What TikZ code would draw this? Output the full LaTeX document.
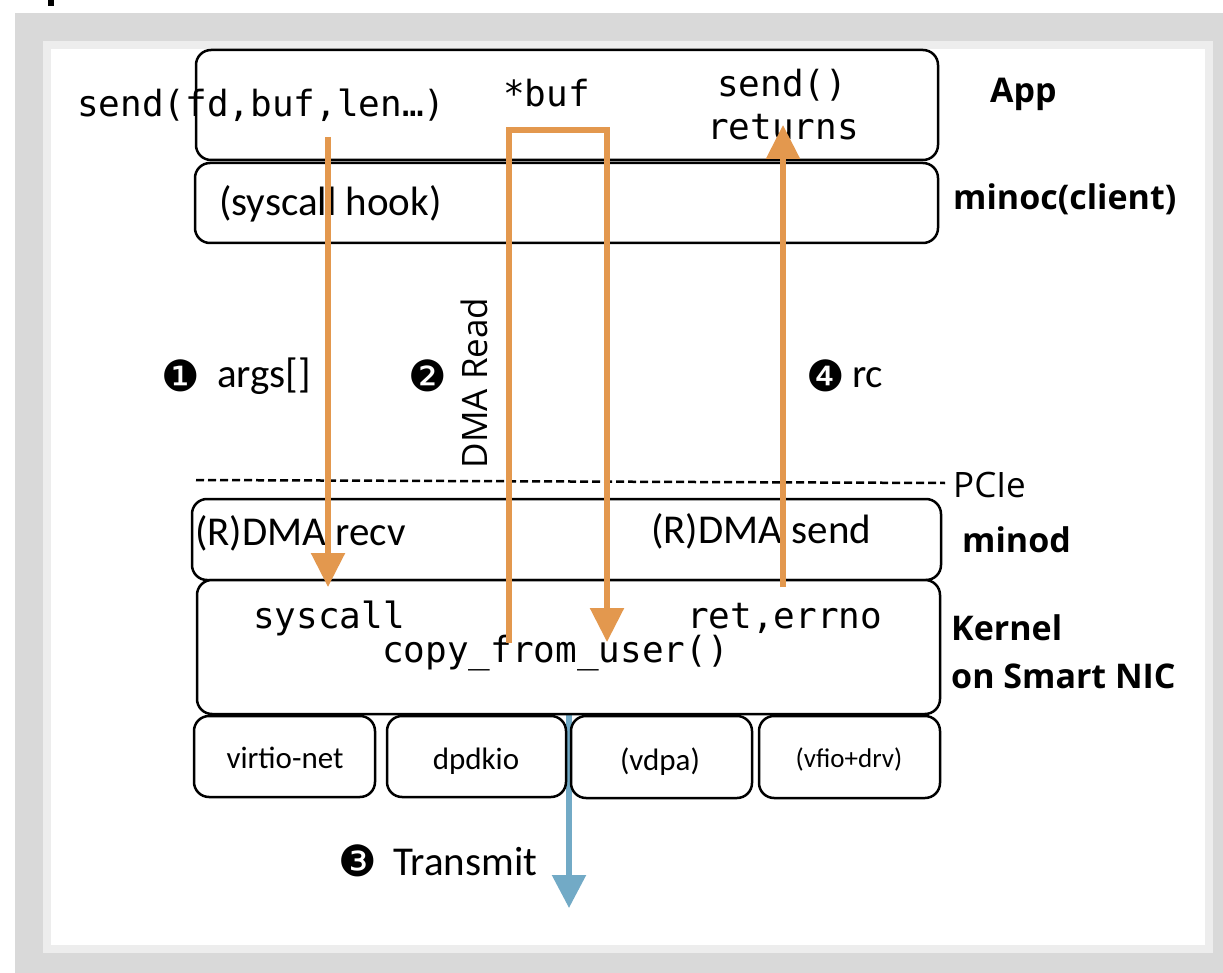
\documentclass[tikz,border=0pt]{standalone}
\usepackage{fontspec}
\setmainfont{Carlito}
\setmonofont{DejaVu Sans Mono}
\newfontfamily\labfont{Open Sans}
\newfontfamily\dingfont{DejaVu Sans}
\usetikzlibrary{arrows.meta}
\definecolor{flow}{RGB}{227,152,78}
\definecolor{xmit}{RGB}{114,170,198}
\definecolor{frameouter}{RGB}{217,217,217}
\definecolor{frameinner}{RGB}{237,237,237}

\begin{document}
\begin{tikzpicture}[x=1pt,y=-1pt,
  layer/.style={draw=black, line width=2.5pt, rounded corners=15pt, inner sep=0pt, fill=white},
  code/.style={font=\ttfamily\fontsize{36}{40}\selectfont, inner sep=0pt, anchor=base west},
  plain/.style={font=\fontsize{41}{45}\selectfont, inner sep=0pt, anchor=base west},
  small/.style={font=\fontsize{31}{34}\selectfont, inner sep=0pt, anchor=base},
  ding/.style={font=\dingfont\fontsize{43}{46}\selectfont, inner sep=0pt, anchor=base west},
  tag/.style={font=\labfont\bfseries\fontsize{34}{40}\selectfont, inner sep=0pt, anchor=base west},
  flowline/.style={draw=flow, line width=5.5pt},
  flowarrow/.style={flowline, -{Triangle[length=34pt,width=33pt]}},
  xmitarrow/.style={draw=xmit, line width=5.5pt, -{Triangle[length=33pt,width=33pt]}}
]
\useasboundingbox (0,0) rectangle (1223,973);

% page frame
\fill[frameouter] (15,13) rectangle (1223,973);
\fill[frameinner] (43,41) rectangle (1213,953);
\fill[white] (51,49) rectangle (1205,945);
\fill[black] (48,0) rectangle (54,6);

% transmit path, under the driver boxes
\coordinate (txs) at (569,714);
\coordinate (txe) at (569,908);
\draw[xmitarrow] (txs) -- (txe);

% layers
\node[layer, minimum width=742pt, minimum height=110pt] (app) at (567,105) {};
\node[layer, minimum width=743pt, minimum height=80pt] (hook) at (566.5,203) {};
\node[layer, minimum width=749pt, minimum height=81pt] (minod) at (566.5,539.5) {};
\node[layer, minimum width=743pt, minimum height=134pt] (kernel) at (568.5,647) {};
\node[layer, minimum width=181pt, minimum height=81pt] (virtio) at (284.5,756.5) {};
\node[layer, minimum width=179pt, minimum height=81pt] (dpdk) at (476.5,756.5) {};
\node[layer, minimum width=181pt, minimum height=82pt] (vdpa) at (661.5,757) {};
\node[layer, minimum width=181pt, minimum height=82pt] (vfio) at (849.5,757) {};

% PCIe boundary
\coordinate (pcil) at (196,480);
\coordinate (pcir) at (945,483);
\draw[black, line width=2.5pt, dash pattern=on 8pt off 4pt] (pcil) -- (pcir);

% texts inside the layers
\node[code] (tsend) at (77,117) {send(fd,buf,len…)};
\node[code] (tbuf) at (503,107) {*buf};
\node[code] (tret1) at (717,97) {send()};
\node[code] (tret2) at (707,140) {returns};
\node[plain] (thook) at (219,216) {(syscall hook)};
\node[plain] (trecv) at (195,545) {(R)DMA recv};
\node[plain] (tsendd) at (651,543) {(R)DMA send};
\node[code] (tsys) at (253,628) {syscall};
\node[code] (terr) at (687,628) {ret,errno};
\node[code] (tcopy) at (382,662) {copy\_from\_user()};
\node[small] (tvirtio) at (285,768) {virtio-net};
\node[small] (tdpdk) at (476,769) {dpdkio};
\node[small] (tvdpa) at (660,770) {(vdpa)};
\node[small, font=\fontsize{27}{30}\selectfont] (tvfio) at (849,767) {(vfio+drv)};

% step labels
\node[ding] (n1) at (161,391) {❶};
\node[plain] (targs) at (217,388) {args[]};
\node[ding] (n2) at (408,391) {❷};
\node[font=\labfont\fontsize{35}{40}\selectfont, inner sep=0pt, rotate=90] (tdma) at (474,383) {DMA Read};
\node[ding] (n4) at (806,391) {❹};
\node[plain] (trc) at (852,388) {rc};
\node[ding] (n3) at (338,876) {❸};
\node[plain] (ttx) at (393,875) {Transmit};

% layer names
\node[tag] (lapp) at (990,103) {App};
\node[tag] (lclient) at (953,210) {minoc(client)};
\node[font=\labfont\fontsize{35}{40}\selectfont, inner sep=0pt, anchor=base west] (lpcie) at (953,497) {PCIe};
\node[tag] (lminod) at (962,552) {minod};
\node[tag] (lkern1) at (951,640) {Kernel};
\node[tag] (lkern2) at (951,688) {on Smart NIC};

% request/response flows
\coordinate (a1s) at (328,137);
\coordinate (a1e) at (328,587);
\draw[flowarrow] (a1s) -- (a1e);

\coordinate (d1) at (509,643);
\coordinate (d2) at (509,130);
\coordinate (d3) at (607,130);
\coordinate (d4) at (607,642);
\draw[flowarrow] (d1) -- (d2) -- (d3) -- (d4);

\coordinate (a4s) at (783,587);
\coordinate (a4e) at (783,125);
\draw[flowarrow] (a4s) -- (a4e);
\end{tikzpicture}
\end{document}
